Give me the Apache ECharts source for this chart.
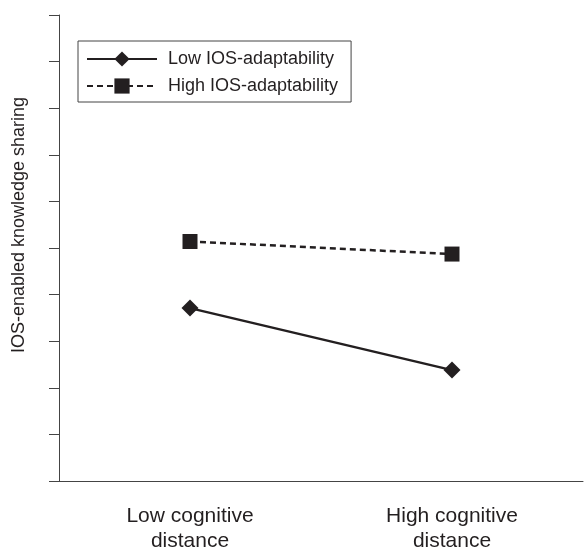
<!DOCTYPE html>
<html>
<head>
<meta charset="utf-8">
<script src="https://cdn.jsdelivr.net/npm/echarts@6/dist/echarts.min.js"></script>
<style>
  html, body { margin: 0; padding: 0; background: #fff; }
  #chart { width: 584px; height: 550px; }
</style>
</head>
<body>
<div id="chart"></div>
<script>
// ---- data ----
var categories = ['Low cognitive\ndistance', 'High cognitive\ndistance'];
var seriesNames = ['Low IOS-adaptability', 'High IOS-adaptability'];
var lowAdapt = [3.71, 2.38];
var highAdapt = [5.14, 4.87];
var yTitle = 'IOS-enabled knowledge sharing';

var INK = '#231f20';
var AXIS = '#444';
var FONT = 'Liberation Sans, Arial, sans-serif';

var chart = echarts.init(document.getElementById('chart'));

chart.setOption({
  backgroundColor: '#fff',
  animation: false,
  textStyle: { fontFamily: FONT },
  grid: {
    left: 59, top: 15, right: 1, bottom: 69,
    containLabel: false, outerBoundsMode: 'none'
  },
  legend: {
    orient: 'vertical',
    left: 78, top: 41,
    padding: [9, 13, 7, 8],
    itemGap: 9,
    itemWidth: 70, itemHeight: 19,
    borderColor: AXIS, borderWidth: 1,
    textStyle: { color: INK, fontSize: 18, fontFamily: FONT, padding: [0, 0, 0, 6] },
    data: seriesNames
  },
  xAxis: {
    type: 'category',
    data: categories,
    boundaryGap: true,
    axisLine: { lineStyle: { color: AXIS, width: 1 } },
    axisTick: { length: 8, lineStyle: { color: AXIS } },
    axisLabel: { color: INK, fontSize: 21, lineHeight: 25, margin: 23 }
  },
  yAxis: {
    type: 'value',
    min: 0, max: 10, interval: 1,
    name: yTitle,
    nameLocation: 'middle',
    nameGap: 31,
    nameTextStyle: { color: INK, fontSize: 18, padding: [0, 0, 0, 46] },
    axisLine: { show: true, lineStyle: { color: AXIS, width: 1 } },
    axisTick: { show: true, length: 10, lineStyle: { color: AXIS } },
    axisLabel: { show: false },
    splitLine: { show: false }
  },
  series: [{
    name: seriesNames[0],
    type: 'line',
    data: lowAdapt,
    symbol: 'diamond', symbolSize: 17,
    itemStyle: { color: INK },
    lineStyle: { color: INK, width: 2.5 }
  }, {
    name: seriesNames[1],
    type: 'line',
    data: highAdapt,
    symbol: 'rect', symbolSize: 15,
    itemStyle: { color: INK },
    lineStyle: { color: INK, width: 2.5, type: [6, 4] }
  }]
});
</script>
</body>
</html>
